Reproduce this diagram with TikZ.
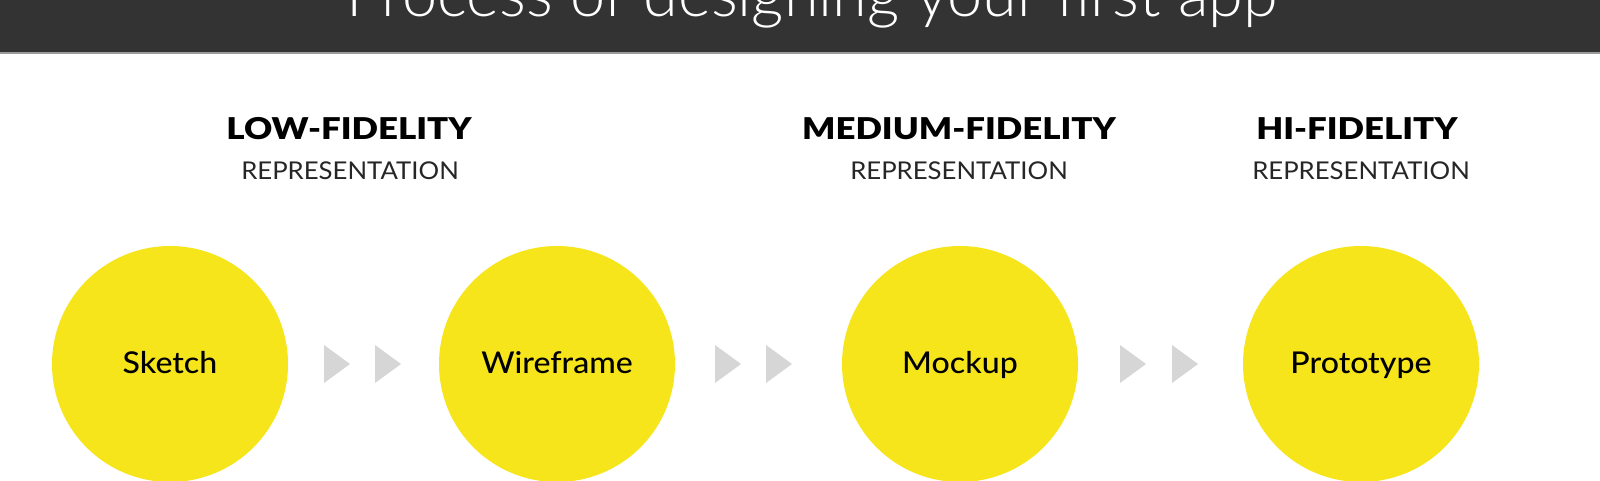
\documentclass[tikz,border=0pt]{standalone}
\usepackage{fontspec}
\setmainfont{Lato}
\newfontfamily\titlefont{Lato Light}
\newfontfamily\headfont[FakeStretch=1.16]{Lato Black}
\newfontfamily\subfont[FakeStretch=1.05]{Lato}
\newfontfamily\stagefont[FakeStretch=1.07]{Lato Medium}
\definecolor{barcol}{HTML}{333333}
\definecolor{barline}{HTML}{9A9A9A}
\definecolor{stepyellow}{RGB}{247,229,28}
\definecolor{tricol}{HTML}{D6D6D6}
\begin{document}
\begin{tikzpicture}[x=1pt,y=-1pt,
  stage/.style={circle, fill=stepyellow, minimum size=236pt, inner sep=0pt,
    font=\stagefont\fontsize{30}{30}\selectfont, text=black, text height=18pt, text depth=0pt},
  headbold/.style={anchor=base, font=\headfont\fontsize{30}{30}\selectfont, text=black, inner sep=0pt},
  headsub/.style={anchor=base, font=\subfont\fontsize{24.5}{24.5}\selectfont, text=black!85, inner sep=0pt},
  chevron/.style={fill=tricol}]
\useasboundingbox (0,0) rectangle (1600,480);
\fill[white] (0,0) rectangle (1600,480);
% top bar
\fill[barcol] (0,0) rectangle (1600,52);
\fill[barline] (0,52) rectangle (1600,54);
\node[anchor=base, inner sep=0pt, text=white, font=\titlefont\fontsize{63}{63}\selectfont] (title) at (812,16) {Process of designing your first app};
% headers
\node[headbold] (lowh) at (349,139) {LOW-FIDELITY};
\node[headsub] (lows) at (350,179) {REPRESENTATION};
\node[headbold] (medh) at (959,139) {MEDIUM-FIDELITY};
\node[headsub] (meds) at (959,179) {REPRESENTATION};
\node[headbold] (hih) at (1357,139) {HI-FIDELITY};
\node[headsub] (his) at (1361,179) {REPRESENTATION};
% stages
\node[stage] (sketch) at (170,364) {Sketch};
\node[stage] (wire) at (557,364) {Wireframe};
\node[stage] (mock) at (960,364) {Mockup};
\node[stage] (proto) at (1361,364) {Prototype};
% chevrons
\foreach \x in {324,375,715,766,1120,1172}
  \fill[chevron] (\x,345) -- ++(26,19) -- ++(-26,19) -- cycle;
\end{tikzpicture}
\end{document}
